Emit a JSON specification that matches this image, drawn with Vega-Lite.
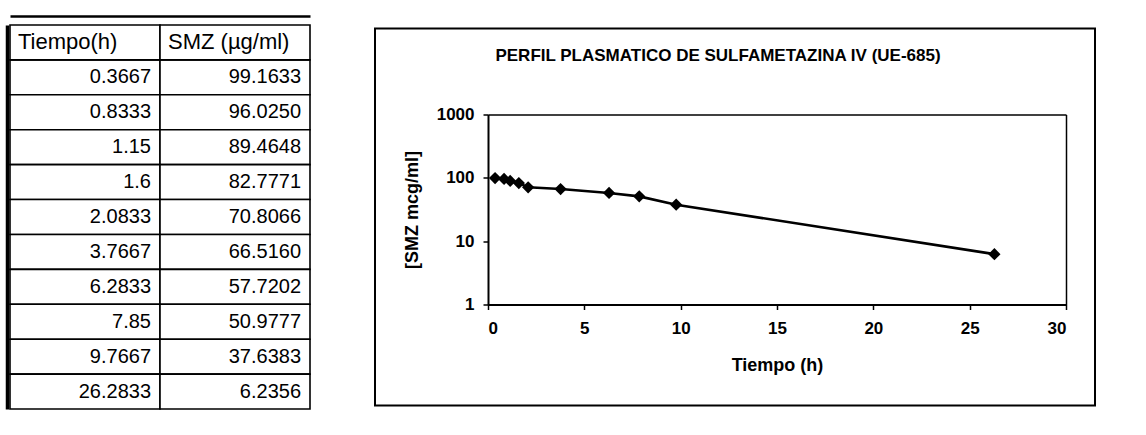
{
  "$schema": "https://vega.github.io/schema/vega-lite/v6.json",
  "background": "white",
  "padding": {"left": 7, "top": 16, "right": 0, "bottom": 0},
  "datasets": {
    "pk": [
      {"t": 0.3667, "smz": 99.1633},
      {"t": 0.8333, "smz": 96.025},
      {"t": 1.15, "smz": 89.4648},
      {"t": 1.6, "smz": 82.7771},
      {"t": 2.0833, "smz": 70.8066},
      {"t": 3.7667, "smz": 66.516},
      {"t": 6.2833, "smz": 57.7202},
      {"t": 7.85, "smz": 50.9777},
      {"t": 9.7667, "smz": 37.6383},
      {"t": 26.2833, "smz": 6.2356}
    ],
    "header": [
      {"col": "t", "label": "Tiempo(h)"},
      {"col": "smz", "label": "SMZ (µg/ml)"}
    ]
  },
  "config": {
    "font": "Liberation Sans",
    "view": {"stroke": null},
    "axis": {"grid": false, "domainColor": "black", "tickColor": "black", "labelColor": "black", "titleColor": "black"}
  },
  "spacing": 65,
  "center": true,
  "bounds": "flush",
  "hconcat": [
    {
      "width": 300,
      "height": 384,
      "layer": [
        {
          "data": {"name": "pk"},
          "transform": [
            {"window": [{"op": "row_number", "as": "row"}]},
            {"fold": ["t", "smz"], "as": ["col", "val"]}
          ],
          "mark": {"type": "rect", "fill": "white", "stroke": "black", "strokeWidth": 1.6},
          "encoding": {
            "x": {"field": "col", "type": "nominal", "scale": {"domain": ["t", "smz"], "paddingInner": 0, "paddingOuter": 0},
                  "axis": {"orient": "top", "offset": 9, "domainWidth": 2.5, "labels": false, "ticks": false, "title": null}},
            "y": {"field": "row", "type": "ordinal", "scale": {"domain": [0, 1, 2, 3, 4, 5, 6, 7, 8, 9, 10], "paddingInner": 0, "paddingOuter": 0},
                  "axis": {"orient": "left", "offset": 3, "domainWidth": 3.5, "labels": false, "ticks": false, "title": null}}
          }
        },
        {
          "data": {"name": "header"},
          "mark": {"type": "rect", "fill": "white", "stroke": "black", "strokeWidth": 1.6},
          "encoding": {
            "x": {"field": "col", "type": "nominal",
                  "axis": {"orient": "top", "offset": 9, "domainWidth": 2.5, "labels": false, "ticks": false, "title": null}},
            "y": {"datum": 0, "type": "ordinal",
                  "axis": {"orient": "left", "offset": 3, "domainWidth": 3.5, "labels": false, "ticks": false, "title": null}}
          }
        },
        {
          "data": {"name": "header"},
          "mark": {"type": "text", "align": "left", "baseline": "middle", "dx": 8, "fontSize": 22, "color": "black"},
          "encoding": {
            "x": {"field": "col", "type": "nominal", "bandPosition": 0,
                  "axis": {"orient": "top", "offset": 9, "domainWidth": 2.5, "labels": false, "ticks": false, "title": null}},
            "y": {"datum": 0, "type": "ordinal",
                  "axis": {"orient": "left", "offset": 3, "domainWidth": 3.5, "labels": false, "ticks": false, "title": null}},
            "text": {"field": "label", "type": "nominal"}
          }
        },
        {
          "data": {"name": "pk"},
          "transform": [
            {"window": [{"op": "row_number", "as": "row"}]},
            {"fold": ["t", "smz"], "as": ["col", "val"]},
            {"filter": "datum.col === 't'"}
          ],
          "mark": {"type": "text", "align": "right", "baseline": "middle", "dx": -9, "fontSize": 20, "color": "black"},
          "encoding": {
            "x": {"field": "col", "type": "nominal", "bandPosition": 1,
                  "axis": {"orient": "top", "offset": 9, "domainWidth": 2.5, "labels": false, "ticks": false, "title": null}},
            "y": {"field": "row", "type": "ordinal",
                  "axis": {"orient": "left", "offset": 3, "domainWidth": 3.5, "labels": false, "ticks": false, "title": null}},
            "text": {"field": "val", "type": "nominal"}
          }
        },
        {
          "data": {"name": "pk"},
          "transform": [
            {"window": [{"op": "row_number", "as": "row"}]},
            {"fold": ["t", "smz"], "as": ["col", "val"]},
            {"filter": "datum.col === 'smz'"}
          ],
          "mark": {"type": "text", "align": "right", "baseline": "middle", "dx": -9, "fontSize": 20, "color": "black"},
          "encoding": {
            "x": {"field": "col", "type": "nominal", "bandPosition": 1,
                  "axis": {"orient": "top", "offset": 9, "domainWidth": 2.5, "labels": false, "ticks": false, "title": null}},
            "y": {"field": "row", "type": "ordinal",
                  "axis": {"orient": "left", "offset": 3, "domainWidth": 3.5, "labels": false, "ticks": false, "title": null}},
            "text": {"field": "val", "type": "quantitative", "format": ".4f"}
          }
        }
      ]
    },
    {
      "width": 720,
      "height": 377,
      "view": {"stroke": "black", "strokeWidth": 2},
      "title": {
        "text": "PERFIL PLASMATICO DE SULFAMETAZINA IV (UE-685)",
        "fontSize": 17,
        "fontWeight": "bold",
        "color": "black",
        "offset": -36,
        "anchor": "middle",
        "frame": "group",
        "dx": -17
      },
      "data": {"name": "pk"},
      "layer": [
        {
          "mark": {"type": "line", "color": "black", "strokeWidth": 2.6},
          "encoding": {
            "x": {
              "field": "t", "type": "quantitative",
              "scale": {"domain": [0, 30], "range": [113, 691], "nice": false, "zero": false},
              "axis": {"orient": "bottom", "offset": -101, "values": [0, 5, 10, 15, 20, 25, 30], "title": "Tiempo (h)",
                       "domainWidth": 2, "tickSize": 5, "tickWidth": 1.5, "labelFontSize": 17, "labelFontWeight": "bold", "labelPadding": 11,
                       "titleFontSize": 18, "titleFontWeight": "bold", "titlePadding": 20}
            },
            "y": {
              "field": "smz", "type": "quantitative",
              "scale": {"type": "log", "domain": [1, 1000], "range": [276, 86]},
              "axis": {"orient": "left", "offset": -113, "values": [1, 10, 100, 1000], "format": "d", "title": "[SMZ mcg/ml]",
                       "domainWidth": 2, "tickSize": 5, "tickWidth": 1.5, "labelFontSize": 17, "labelFontWeight": "bold", "labelPadding": 9,
                       "titleFontSize": 18, "titleFontWeight": "bold", "titlePadding": 15}
            }
          }
        },
        {
          "mark": {"type": "point", "shape": "diamond", "filled": true, "color": "black", "size": 150, "opacity": 1},
          "encoding": {
            "x": {"field": "t", "type": "quantitative",
                  "axis": {"orient": "top", "offset": -86, "labels": false, "ticks": false, "title": null, "domainWidth": 1.5}},
            "y": {"field": "smz", "type": "quantitative",
                  "axis": {"orient": "right", "offset": -29, "labels": false, "ticks": false, "title": null, "domainWidth": 1.5}}
          }
        }
      ],
      "resolve": {"axis": {"x": "independent", "y": "independent"}}
    }
  ]
}
